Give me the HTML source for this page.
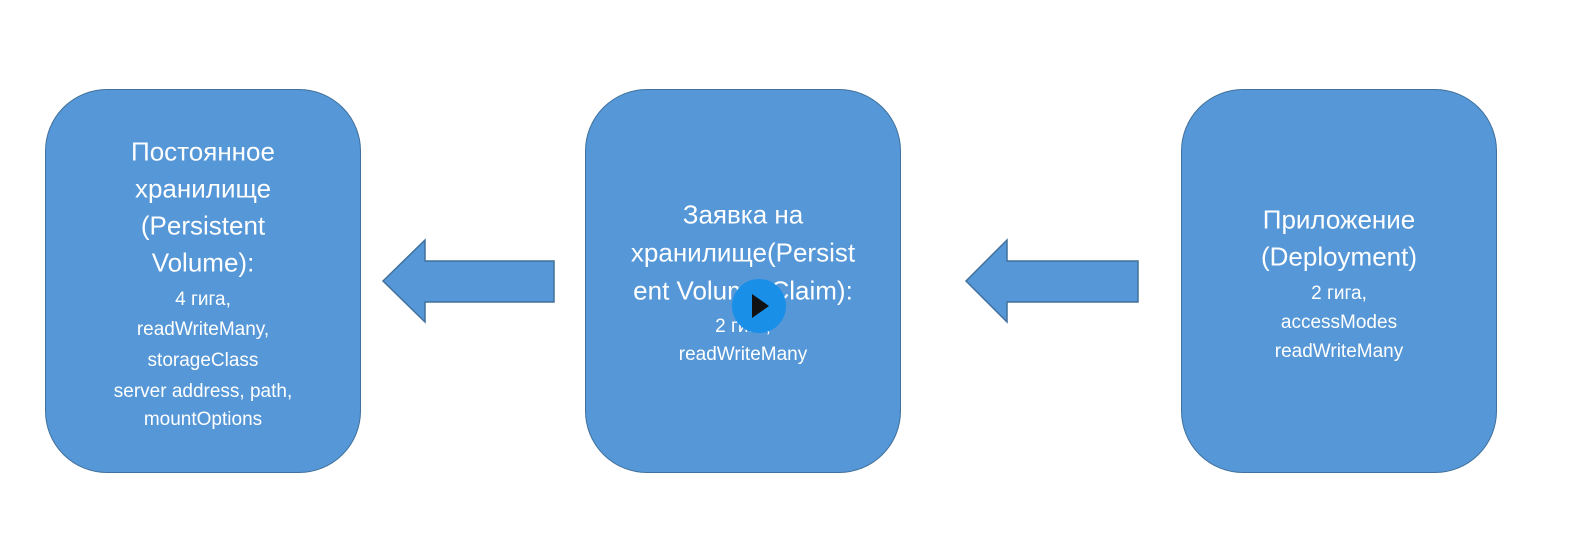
<!DOCTYPE html>
<html><head><meta charset="utf-8"><style>
body{margin:0;width:1582px;height:558px;background:#fff;position:relative;overflow:hidden;font-family:"Liberation Sans",sans-serif;}
.box{position:absolute;top:89px;width:316px;height:384px;background:#5597d7;border:1.5px solid #41719c;border-radius:62px;box-sizing:border-box;}
.t{position:absolute;left:0;width:1582px;color:#fff;text-align:center;white-space:nowrap;transform:translateY(-50%);}
.b{font-size:26px;}.s{font-size:19px;}
</style></head><body>
<div class="box" style="left:45px"></div>
<div class="box" style="left:585px"></div>
<div class="box" style="left:1181px"></div>
<svg width="1582" height="558" style="position:absolute;left:0;top:0">
<polygon points="383,281 425,240 425,261 554,261 554,302 425,302 425,322" fill="#5597d7" stroke="#41719c" stroke-width="1.5"/>
<polygon points="966,281 1007,240 1007,261 1138,261 1138,302 1007,302 1007,322" fill="#5597d7" stroke="#41719c" stroke-width="1.5"/>
</svg>
<div style="position:absolute;left:0;top:0;width:1582px;height:558px">
<div class="t b" style="top:152px;left:-588px">Постоянное</div>
<div class="t b" style="top:189px;left:-588px">хранилище</div>
<div class="t b" style="top:226px;left:-588px">(Persistent</div>
<div class="t b" style="top:263px;left:-588px">Volume):</div>
<div class="t s" style="top:300px;left:-588px">4 гига,</div>
<div class="t s" style="top:330px;left:-588px">readWriteMany,</div>
<div class="t s" style="top:361px;left:-588px">storageClass</div>
<div class="t s" style="top:392px;left:-588px">server address, path,</div>
<div class="t s" style="top:420px;left:-588px">mountOptions</div>

<div class="t b" style="top:215px;left:-48px">Заявка на</div>
<div class="t b" style="top:253px;left:-48px">хранилище(Persist</div>
<div class="t b" style="top:291px;left:-48px">ent Volume Claim):</div>
<div class="t s" style="top:327px;left:-48px">2 гига,</div>
<div class="t s" style="top:355px;left:-48px">readWriteMany</div>

<div class="t b" style="top:220px;left:548px">Приложение</div>
<div class="t b" style="top:257px;left:548px">(Deployment)</div>
<div class="t s" style="top:294px;left:548px">2 гига,</div>
<div class="t s" style="top:323px;left:548px">accessModes</div>
<div class="t s" style="top:352px;left:548px">readWriteMany</div>
</div>
<svg width="1582" height="558" style="position:absolute;left:0;top:0">
<circle cx="759" cy="306" r="27" fill="#1a8fe8"/>
<polygon points="752,294 752,318 769,306" fill="#111"/>
</svg>
</body></html>
